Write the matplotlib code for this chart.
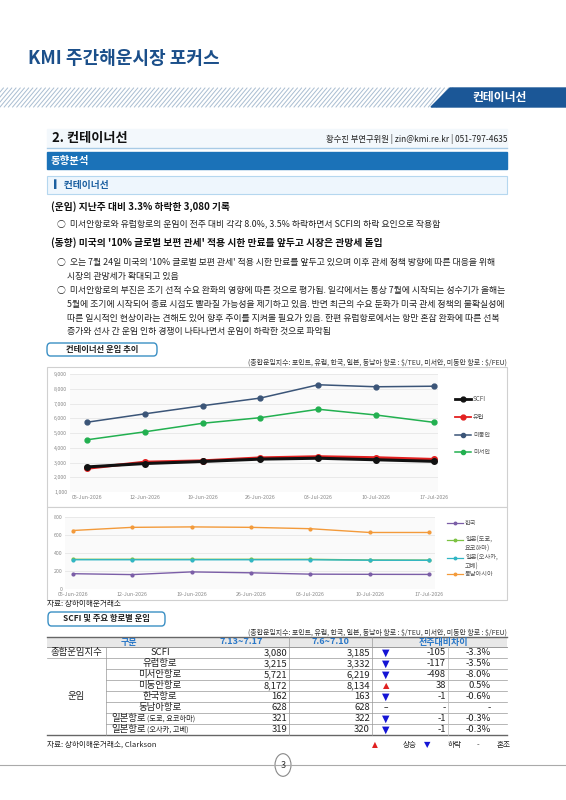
import matplotlib
matplotlib.use("Agg")
import matplotlib.pyplot as plt
from matplotlib.lines import Line2D
from matplotlib.patches import Rectangle, Polygon, FancyBboxPatch

plt.rcParams['font.family'] = ['Noto Sans CJK KR', 'DejaVu Sans']

W, H = 566, 800
dates = ['05-Jun-2026', '12-Jun-2026', '19-Jun-2026', '26-Jun-2026', '03-Jul-2026', '10-Jul-2026', '17-Jul-2026']
scfi = [2700, 2930, 3070, 3230, 3290, 3185, 3080]
europe = [2600, 3030, 3120, 3320, 3400, 3332, 3215]
us_east = [5730, 6300, 6850, 7370, 8270, 8134, 8172]
us_west = [4540, 5080, 5660, 6040, 6610, 6219, 5721]
korea = [170, 160, 190, 180, 165, 163, 162]
japan_tokyo = [330, 330, 330, 330, 330, 322, 321]
japan_osaka = [325, 325, 325, 325, 325, 320, 319]
se_asia = [650, 685, 690, 685, 670, 628, 628]

tbl_names = ['SCFI', '유럽항로', '미서안항로', '미동안항로', '한국항로', '동남아항로', '일본항로(도쿄, 요코하마)', '일본항로(오사카, 고베)']
tbl_cur = ['3,080', '3,215', '5,721', '8,172', '162', '628', '321', '319']
tbl_prev = ['3,185', '3,332', '6,219', '8,134', '163', '628', '322', '320']
tbl_diff = ['-105', '-117', '-498', '38', '-1', '-', '-1', '-1']
tbl_pct = ['-3.3%', '-3.5%', '-8.0%', '0.5%', '-0.6%', '-', '-0.3%', '-0.3%']
tbl_dir = ['down', 'down', 'down', 'up', 'down', 'flat', 'down', 'down']

fig = plt.figure(figsize=(W/100, H/100), dpi=100)

def P(x, y):
    return (x / W, 1 - y / H)

def T(x, y, s, **kw):
    kw.setdefault('va', 'center')
    fig.text(x / W, 1 - y / H, s, **kw)

def rect(x0, y0, x1, y1, z=1, **kw):
    fig.add_artist(Rectangle(P(x0, y1), (x1 - x0) / W, (y1 - y0) / H, transform=fig.transFigure, zorder=z, **kw))

def hline(x0, x1, y, **kw):
    fig.add_artist(Line2D([x0 / W, x1 / W], [1 - y / H, 1 - y / H], transform=fig.transFigure, **kw))

def vline(x, y0, y1, **kw):
    fig.add_artist(Line2D([x / W, x / W], [1 - y0 / H, 1 - y1 / H], transform=fig.transFigure, **kw))

def button(x0, y0, x1, y1, s):
    fig.add_artist(FancyBboxPatch(P(x0, y1), (x1 - x0) / W, (y1 - y0) / H, boxstyle='round,pad=0,rounding_size=0.006',
                                  transform=fig.transFigure, fc='white', ec='#3a8fc4', lw=1))
    T((x0 + x1) / 2, (y0 + y1) / 2, s, ha='center', fontsize=6, fontweight='bold', color='#222')

# header
T(28, 59, 'KMI 주간해운시장 포커스', fontsize=13, fontweight='heavy', color='#1b4f8a')
for i in range(-10, 110):
    x = i * 4.2
    if x > 440:
        break
    fig.add_artist(Line2D([x / W, (x + 16) / W], [1 - 107 / H, 1 - 88 / H], transform=fig.transFigure, color='#a9bdd1', lw=0.7))
fig.add_artist(Polygon([P(431, 107), P(450, 88), P(566, 88), P(566, 107)], closed=True, transform=fig.transFigure, color='#1b5797', zorder=3))
T(500, 97.5, '컨테이너선', ha='center', fontsize=8.5, fontweight='bold', color='white', zorder=4)

rect(47, 129, 507, 147, color='#f3f8fc')
hline(47, 507, 147.5, color='#a8cbe6', lw=1)
T(52, 138, '2. 컨테이너선', fontsize=9.5, fontweight='bold', color='#111')
T(507, 139, '황수진 부연구위원 | zin@kmi.re.kr | 051-797-4635', ha='right', fontsize=6, color='#222')
rect(47, 152, 507, 169, color='#1b72b8')
T(51, 160.5, '동향분석', fontsize=7.5, fontweight='bold', color='white')
rect(47, 176, 507, 194, fc='#eef6fd', ec='#b5d7ef', lw=0.8)
T(54, 185, '▎컨테이너선', fontsize=7, fontweight='bold', color='#1b5fa0')

tx = dict(fontsize=6.4, color='#222')
T(51, 207, '(운임) 지난주 대비 3.3% 하락한 3,080 기록', fontsize=7, fontweight='bold', color='#111')
T(57, 224, '○  미서안항로와 유럽항로의 운임이 전주 대비 각각 8.0%, 3.5% 하락하면서 SCFI의 하락 요인으로 작용함', **tx)
T(51, 243, "(동향) 미국의 '10% 글로벌 보편 관세' 적용 시한 만료를 앞두고 시장은 관망세 돌입", fontsize=7, fontweight='bold', color='#111')
T(57, 262, "○  오는 7월 24일 미국의 '10% 글로벌 보편 관세' 적용 시한 만료를 앞두고 있으며 이후 관세 정책 방향에 따른 대응을 위해", **tx)
T(67, 276, '시장의 관망세가 확대되고 있음', **tx)
T(57, 291, '○  미서안항로의 부진은 조기 선적 수요 완화의 영향에 따른 것으로 평가됨. 일각에서는 통상 7월에 시작되는 성수기가 올해는', **tx)
T(67, 305, '5월에 조기에 시작되어 종료 시점도 빨라질 가능성을 제기하고 있음. 반면 최근의 수요 둔화가 미국 관세 정책의 불확실성에', **tx)
T(67, 318, '따른 일시적인 현상이라는 견해도 있어 향후 추이를 지켜볼 필요가 있음. 한편 유럽항로에서는 항만 혼잡 완화에 따른 선복', **tx)
T(67, 331, '증가와 선사 간 운임 인하 경쟁이 나타나면서 운임이 하락한 것으로 파악됨', **tx)
button(47, 343, 157, 356, '컨테이너선 운임 추이')

unit = '(종합운임지수: 포인트, 유럽, 한국, 일본, 동남아 항로 : \\$/TEU, 미서안, 미동안 항로 : \\$/FEU)'
T(507, 363, unit, ha='right', fontsize=5, color='#333')

# chart boxes
rect(47, 367, 507, 507, z=-1, fc='white', ec='#d0d0d0', lw=0.8)
rect(47, 507, 507, 600, z=-1, fc='white', ec='#d0d0d0', lw=0.8)

x = list(range(len(dates)))
# chart 1
ax1 = fig.add_axes([70 / W, 1 - 492 / H, (438 - 70) / W, (492 - 374) / H])
ax1.set_facecolor('#fafafa')
ax1.plot(x, us_east, color='#3b5578', marker='o', ms=3.5, lw=1.1)
ax1.plot(x, us_west, color='#22b050', marker='o', ms=3.5, lw=1.1)
ax1.plot(x, europe, color='#e32020', marker='o', ms=4, lw=2)
ax1.plot(x, scfi, color='#111111', marker='o', ms=4, lw=2.2)
ax1.set_ylim(1000, 9000)
ax1.set_xlim(-0.294, 6.07)
ax1.set_yticks(range(1000, 9001, 1000))
ax1.set_yticklabels([f'{v:,}' for v in range(1000, 9001, 1000)])
ax1.set_xticks(x)
ax1.set_xticklabels(dates)
ax1.grid(axis='y', color='#e6e6e6', lw=0.6)
ax1.tick_params(labelsize=3.8, colors='#888', length=0, pad=2)
for s in ax1.spines.values():
    s.set_visible(False)

# chart 2
ax2 = fig.add_axes([65 / W, 1 - 589 / H, (435 - 65) / W, (589 - 517) / H])
ax2.set_facecolor('#fafafa')
ax2.plot(x, se_asia, color='#f39a3a', marker='o', ms=2, lw=1)
ax2.plot(x, japan_tokyo, color='#7cc242', marker='o', ms=2, lw=1)
ax2.plot(x, japan_osaka, color='#31b6c4', marker='o', ms=2, lw=1)
ax2.plot(x, korea, color='#7b5ea7', marker='o', ms=2, lw=1)
ax2.set_ylim(0, 800)
ax2.set_xlim(-0.13, 6.1)
ax2.set_yticks(range(0, 801, 200))
ax2.set_xticks(x)
ax2.set_xticklabels(dates)
ax2.grid(axis='y', color='#e6e6e6', lw=0.6)
ax2.tick_params(labelsize=3.8, colors='#888', length=0, pad=2)
for s in ax2.spines.values():
    s.set_visible(False)

# legends
def leg(xl, y, color, label, lw, ms, fs=4.5, yt=None):
    fig.add_artist(Line2D([xl / W, (xl + 16) / W], [1 - y / H] * 2, transform=fig.transFigure, color=color, lw=lw))
    fig.add_artist(Line2D([(xl + 8) / W], [1 - y / H], transform=fig.transFigure, color=color, marker='o', ms=ms))
    T(xl + 18, y if yt is None else yt, label, fontsize=fs, color='#555', va='center')

leg(455, 399, '#111111', 'SCFI', 2, 3.5)
leg(455, 417, '#e32020', '유럽', 1.3, 3.5)
leg(455, 435, '#3b5578', '미동안', 1.1, 3)
leg(455, 452, '#22b050', '미서안', 1.1, 3)
leg(447, 523, '#7b5ea7', '한국', 0.9, 1.8)
leg(447, 540, '#7cc242', '일본(도쿄,\n요코하마)', 0.9, 1.8, yt=544)
leg(447, 558, '#31b6c4', '일본(오사카,\n고베)', 0.9, 1.8, yt=562)
leg(447, 574, '#f39a3a', '동남아시아', 0.9, 1.8)

T(47, 604, '자료: 상하이해운거래소', fontsize=5.5, color='#222')
button(48, 612, 165, 626, 'SCFI 및 주요 항로별 운임')
T(507, 633, unit, ha='right', fontsize=5, color='#333')

# table
top, hh, rh = 637, 10, 11
rect(47, top, 507, top + hh, color='#e8e8e8', lw=0)
hline(47, 507, top, color='#666', lw=1)
hline(47, 507, top + hh, color='#888', lw=0.6)
hc = '#2a78c8'
T(129, top + hh / 2, '구분', ha='center', fontsize=6.5, fontweight='bold', color=hc)
T(241, top + hh / 2, '7.13~7.17', ha='center', fontsize=6.5, fontweight='bold', color=hc)
T(330, top + hh / 2, '7.6~7.10', ha='center', fontsize=6.5, fontweight='bold', color=hc)
T(443, top + hh / 2, '전주대비차이', ha='center', fontsize=6.5, fontweight='bold', color=hc)
r0 = top + hh
for i in range(len(tbl_names)):
    yc = r0 + rh * i + rh / 2
    nm = tbl_names[i]
    if '(' in nm:
        base, extra = nm.split('(')
        T(111, yc, base, ha='left', fontsize=6.8, color='#222')
        T(147, yc, '(' + extra, ha='left', fontsize=5.2, color='#222')
    else:
        T(160, yc, nm, ha='center', fontsize=6.8, color='#222')
    T(287, yc, tbl_cur[i], ha='right', fontsize=6.8, color='#222')
    T(370, yc, tbl_prev[i], ha='right', fontsize=6.8, color='#222')
    d = tbl_dir[i]
    if d == 'down':
        T(386, yc, '▼', ha='center', fontsize=7, color='#1515d5', family=['DejaVu Sans'])
    elif d == 'up':
        T(386, yc, '▲', ha='center', fontsize=6, color='#e02020', family=['DejaVu Sans'])
    else:
        T(386, yc, '–', ha='center', fontsize=6, color='#222')
    T(446, yc, tbl_diff[i], ha='right', fontsize=6.8, color='#222')
    T(491, yc, tbl_pct[i], ha='right', fontsize=6.8, color='#222')
    if i > 0:
        hline(106 if i > 1 else 47, 507, r0 + rh * i, color='#999', lw=0.5)
bottom = r0 + rh * len(tbl_names)
hline(47, 507, bottom, color='#666', lw=1)
T(76, r0 + rh / 2, '종합운임지수', ha='center', fontsize=6.8, color='#222')
T(76, r0 + rh + rh * 7 / 2, '운임', ha='center', fontsize=6.8, color='#222')
for xv in [106, 289, 372]:
    vline(xv, r0 if xv == 106 else top, bottom, color='#999', lw=0.5)
vline(448, r0, bottom, color='#bbb', lw=0.5)

T(47, 745, '자료: 상하이해운거래소, Clarkson', fontsize=5.5, color='#222')
T(375, 745, '▲', ha='center', fontsize=5.5, color='#e02020', family=['DejaVu Sans'])
T(410, 745, '상승', ha='center', fontsize=5.5, color='#222')
T(427, 745, '▼', ha='center', fontsize=6, color='#1515d5', family=['DejaVu Sans'])
T(455, 745, '하락', ha='center', fontsize=5.5, color='#222')
T(478, 745, '-', ha='center', fontsize=5.5, color='#222')
T(504, 745, '혼조', ha='center', fontsize=5.5, color='#222')

hline(0, 566, 765, color='#aaa', lw=0.8)
circ = plt.Circle(P(283, 765), 8 / W, transform=fig.transFigure, fc='white', ec='#888', lw=0.8)
fig.add_artist(circ)
T(283, 765, '3', ha='center', fontsize=6.5, color='#333')

fig.savefig('out.png', dpi=100)
